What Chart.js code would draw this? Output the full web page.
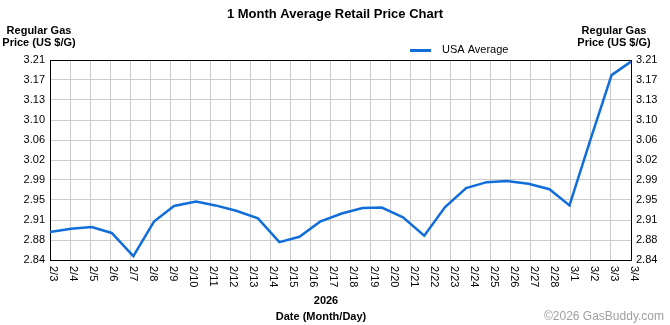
<!DOCTYPE html>
<html>
<head>
<meta charset="utf-8">
<script src="https://cdn.jsdelivr.net/npm/chart.js@4"></script>
<style>
  body { margin: 0; background: #fff; }
  canvas { display: block; }
</style>
</head>
<body>
<canvas id="myChart" width="670" height="325"></canvas>
<script>
const dates = ['2/3', '2/4', '2/5', '2/6', '2/7', '2/8', '2/9', '2/10', '2/11', '2/12', '2/13', '2/14', '2/15',
  '2/16', '2/17', '2/18', '2/19', '2/20', '2/21', '2/22', '2/23', '2/24', '2/25', '2/26', '2/27', '2/28',
  '3/1', '3/2', '3/3', '3/4'];

// where each reading sits along the date axis (in date slots)
const priceX = [0, 1.05, 2.08, 3.08, 4.16, 5.19, 6.19, 7.29, 8.26, 9.29, 10.38, 11.45, 12.45, 13.48,
  14.56, 15.6, 16.56, 17.62, 18.68, 19.72, 20.77, 21.8, 22.8, 23.88, 24.93, 25.93, 26.96, 28.03, 29];

const usaAverage = [2.892, 2.898, 2.901, 2.890, 2.847, 2.911, 2.940, 2.948, 2.941, 2.931, 2.917, 2.873,
  2.883, 2.911, 2.926, 2.936, 2.937, 2.919, 2.885, 2.938, 2.973, 2.984, 2.986, 2.981, 2.971, 2.941,
  3.061, 3.182, 3.207];

const yTickLabels = ['2.84', '2.88', '2.91', '2.95', '2.99', '3.02', '3.06', '3.10', '3.13', '3.17', '3.21'];
const yMin = 2.84;
const yMax = 3.21;

const fontFamily = "'Liberation Sans', Arial, sans-serif";

function setYTicks(scale) {
  const step = (yMax - yMin) / (yTickLabels.length - 1);
  scale.ticks = yTickLabels.map((t, i) => ({ value: yMin + i * step }));
}

const textPlugin = {
  id: 'gasbuddyText',
  afterDraw(chart) {
    const ctx = chart.ctx;
    const xs = chart.scales.x;
    ctx.save();
    ctx.fillStyle = '#000';

    // title
    ctx.font = 'bold 13px ' + fontFamily;
    ctx.textAlign = 'center';
    ctx.textBaseline = 'alphabetic';
    ctx.fillText('1 Month Average Retail Price Chart', 335, 18);

    // axis titles
    ctx.font = 'bold 11px ' + fontFamily;
    ctx.fillText('Regular Gas', 39, 34);
    ctx.fillText('Price (US $/G)', 39, 46);
    ctx.fillText('Regular Gas', 614, 34);
    ctx.fillText('Price (US $/G)', 614, 46);

    // legend
    const ds = chart.data.datasets[0];
    ctx.strokeStyle = ds.borderColor;
    ctx.lineWidth = 3;
    ctx.beginPath();
    ctx.moveTo(410, 50.5);
    ctx.lineTo(431, 50.5);
    ctx.stroke();
    ctx.font = '11px ' + fontFamily;
    ctx.textAlign = 'left';
    ctx.textBaseline = 'middle';
    ctx.fillText(ds.label, 442, 50);

    // date labels, turned to read downwards
    dates.forEach((d, i) => {
      const px = xs.getPixelForValue(i);
      ctx.save();
      ctx.translate(px + 3, xs.top + 6);
      ctx.rotate(Math.PI / 2);
      ctx.fillText(d, 0, 0);
      ctx.restore();
    });

    // footer
    ctx.textBaseline = 'alphabetic';
    ctx.textAlign = 'center';
    ctx.font = 'bold 11px ' + fontFamily;
    ctx.fillText('2026', 326, 304);
    ctx.fillText('Date (Month/Day)', 321, 320);
    ctx.textAlign = 'right';
    ctx.font = '12px ' + fontFamily;
    ctx.fillStyle = '#a0a0a0';
    ctx.fillText('\u00a92026 GasBuddy.com', 664, 320);
    ctx.restore();
  }
};

const ctx = document.getElementById('myChart');

new Chart(ctx, {
  type: 'line',
  data: {
    datasets: [{
      label: 'USA Average',
      data: priceX.map((x, i) => ({ x: x, y: usaAverage[i] })),
      borderColor: '#116ed9',
      borderWidth: 2.5,
      pointRadius: 0,
      tension: 0,
      fill: false,
      xAxisID: 'x',
      yAxisID: 'y'
    }]
  },
  options: {
    responsive: false,
    animation: false,
    devicePixelRatio: 1,
    layout: { padding: { top: 60, left: 0, right: 0, bottom: 0 } },
    plugins: {
      legend: { display: false },
      title: { display: false },
      tooltip: { enabled: false }
    },
    scales: {
      x: {
        type: 'linear',
        min: 0,
        max: dates.length - 1,
        afterBuildTicks: (scale) => { scale.ticks = dates.map((d, i) => ({ value: i })); },
        afterFit: (scale) => { scale.height = 65; },
        ticks: { display: false },
        grid: { color: '#cccccc', drawTicks: false },
        border: { color: '#000', width: 1 }
      },
      y: {
        position: 'left',
        min: yMin,
        max: yMax,
        afterBuildTicks: setYTicks,
        afterFit: (scale) => { scale.width = 50; },
        ticks: {
          callback: (v, i) => yTickLabels[i],
          color: '#000',
          padding: 5,
          font: { family: fontFamily, size: 11 }
        },
        grid: {
          color: (c) => c.index === yTickLabels.length - 1 ? '#000' : '#cccccc',
          drawTicks: false
        },
        border: { color: '#000', width: 1 }
      },
      y2: {
        position: 'right',
        min: yMin,
        max: yMax,
        afterBuildTicks: setYTicks,
        afterFit: (scale) => { scale.width = 39; },
        ticks: {
          callback: (v, i) => yTickLabels[i],
          color: '#000',
          padding: 5,
          font: { family: fontFamily, size: 11 }
        },
        grid: { drawOnChartArea: false, drawTicks: false },
        border: { color: '#000', width: 1 }
      }
    }
  },
  plugins: [textPlugin]
});
</script>
</body>
</html>
